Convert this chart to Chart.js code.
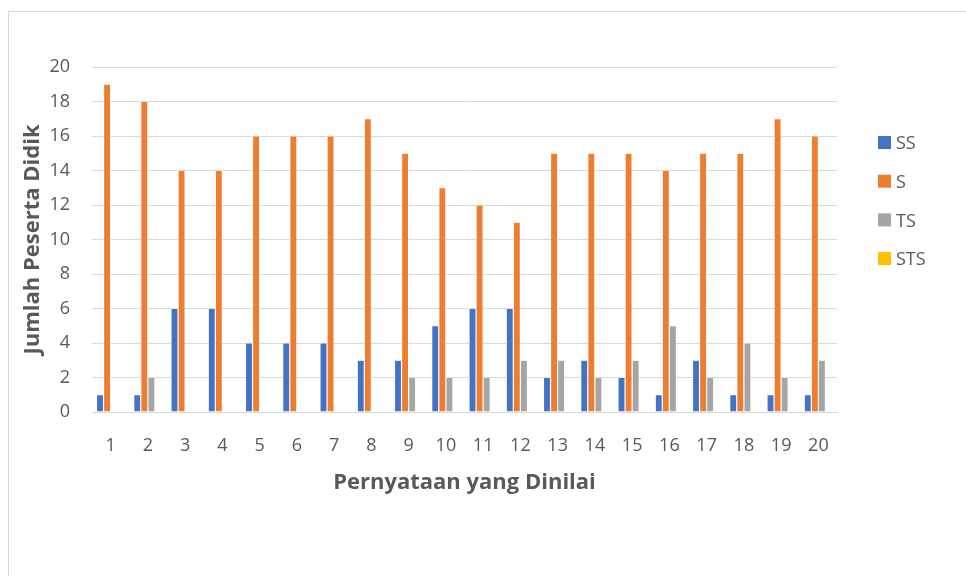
<!DOCTYPE html>
<html>
<head>
<meta charset="utf-8">
<script src="https://cdn.jsdelivr.net/npm/chart.js@4/dist/chart.umd.min.js"></script>
<style>
  html, body { margin: 0; padding: 0; background: #fff; }
  #wrap { position: relative; width: 966px; height: 576px; overflow: hidden; }
  #frame { position: absolute; left: 8px; top: 11px; width: 980px; height: 600px; border: 1px solid #d9d9d9; box-sizing: border-box; }
  canvas { position: absolute; left: 0; top: 0; }
</style>
</head>
<body>
<div id="wrap">
  <div id="frame"></div>
  <canvas id="c" width="966" height="576"></canvas>
</div>
<script>
// Statement numbers 1..20
const categories = ['1','2','3','4','5','6','7','8','9','10','11','12','13','14','15','16','17','18','19','20'];

// Number of students per answer option
const seriesSS  = [1, 1, 6, 6, 4, 4, 4, 3, 3, 5, 6, 6, 2, 3, 2, 1, 3, 1, 1, 1];
const seriesS   = [19, 18, 14, 14, 16, 16, 16, 17, 15, 13, 12, 11, 15, 15, 15, 14, 15, 15, 17, 16];
const seriesTS  = [0, 2, 0, 0, 0, 0, 0, 0, 2, 2, 2, 3, 3, 2, 3, 5, 2, 4, 2, 3];
const seriesSTS = [0, 0, 0, 0, 0, 0, 0, 0, 0, 0, 0, 0, 0, 0, 0, 0, 0, 0, 0, 0];

const seriesNames = ['SS', 'S', 'TS', 'STS'];
const yTicks = [0, 2, 4, 6, 8, 10, 12, 14, 16, 18, 20];

const colors = ['#4472C4', '#ED7D31', '#A5A5A5', '#FFC000'];
const FONT = '"Open Sans", Lato, sans-serif';
const TEXT = '#595959';

// Legend drawn at the right side, one row per series
const sideLegend = {
  id: 'sideLegend',
  afterDraw(chart) {
    const ctx = chart.ctx;
    ctx.save();
    ctx.font = '18px ' + FONT;
    ctx.textBaseline = 'middle';
    chart.data.datasets.forEach((ds, i) => {
      const y = 143 + i * 38.7;
      ctx.fillStyle = ds.backgroundColor;
      ctx.fillRect(878, y - 7, 13, 13);
      ctx.fillStyle = TEXT;
      ctx.fillText(ds.label, 896, y + 1);
    });
    ctx.restore();
  }
};

const datasets = [seriesSS, seriesS, seriesTS, seriesSTS].map((d, i) => ({
  label: seriesNames[i],
  data: d,
  backgroundColor: colors[i],
  borderColor: '#ffffff',
  borderWidth: 0.6,
  categoryPercentage: 0.76,
  barPercentage: 1.0
}));

new Chart(document.getElementById('c'), {
  type: 'bar',
  data: { labels: categories, datasets },
  plugins: [sideLegend],
  options: {
    responsive: false,
    animation: false,
    devicePixelRatio: 1,
    layout: { padding: { top: 67, right: 129, bottom: 80, left: 20 } },
    plugins: {
      legend: { display: false },
      tooltip: { enabled: false }
    },
    scales: {
      x: {
        grid: { display: false },
        border: { display: true, color: '#d9d9d9', width: 1 },
        ticks: { color: TEXT, font: { family: FONT, size: 18 }, padding: 15, maxRotation: 0, autoSkip: false },
        title: {
          display: true,
          text: 'Pernyataan yang Dinilai',
          color: TEXT,
          font: { family: FONT, size: 22, weight: 'bold' },
          padding: { top: 12, bottom: 0 }
        },
        afterFit(scale) { scale.height = 84; }
      },
      y: {
        min: 0,
        max: 20,
        afterBuildTicks(scale) { scale.ticks = yTicks.map(v => ({ value: v })); },
        grid: { color: '#d9d9d9', lineWidth: 1, drawTicks: false },
        border: { display: false },
        ticks: { color: TEXT, font: { family: FONT, size: 18 }, padding: 22 },
        title: {
          display: true,
          text: 'Jumlah Peserta Didik',
          color: TEXT,
          font: { family: FONT, size: 22, weight: 'bold' },
          padding: { top: 0, bottom: 2 }
        },
        afterFit(scale) { scale.width = 72; }
      }
    }
  }
});
</script>
</body>
</html>
